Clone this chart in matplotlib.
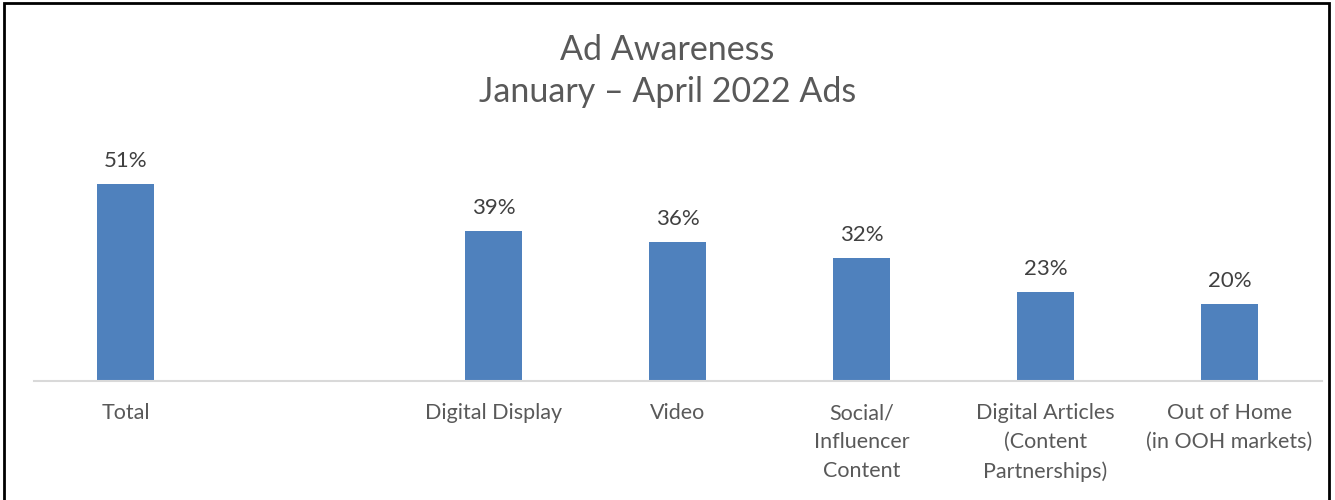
import matplotlib
matplotlib.use("Agg")
import matplotlib.pyplot as plt
from matplotlib.patches import Rectangle

categories = ["Total", "", "Digital Display", "Video", "Social/\nInfluencer\nContent",
              "Digital Articles\n(Content\nPartnerships)", "Out of Home\n(in OOH markets)"]
values = [51, None, 39, 36, 32, 23, 20]

plt.rcParams["font.family"] = ["Lato", "DejaVu Sans"]
TEXT = "#595959"
BAR = "#4f81bd"

fig = plt.figure(figsize=(13.35, 5), dpi=100)
ax = fig.add_axes([0.0251, 0.238, 0.9648, 0.4626])

xs = [i for i, v in enumerate(values) if v is not None]
vs = [v for v in values if v is not None]
ax.bar(xs, vs, width=0.31, color=BAR, zorder=2)
for x, v in zip(xs, vs):
    ax.text(x, v + 3.4, f"{v}%", ha="center", va="bottom", fontsize=16, color="#404040")

ax.set_xlim(-0.5, len(categories) - 0.5)
ax.set_ylim(0, 60)
ax.set_yticks([])
ax.set_xticks(range(len(categories)))
ax.set_xticklabels(categories, fontsize=15.5, color=TEXT, linespacing=1.55, va="top")
ax.tick_params(axis="x", length=0, pad=16)
for s in ["top", "right", "left"]:
    ax.spines[s].set_visible(False)
ax.spines["bottom"].set_color("#d9d9d9")
ax.spines["bottom"].set_linewidth(1.5)

fig.text(0.5, 0.858, "Ad Awareness\nJanuary \u2013 April 2022 Ads", ha="center", va="center",
         fontsize=24.5, color=TEXT, linespacing=1.4)

fig.patches.append(Rectangle((4 / 1335, -0.1), 1325 / 1335, 0.1 + 497 / 500,
                             transform=fig.transFigure, fill=False,
                             edgecolor="black", linewidth=2))

fig.savefig("out.png", dpi=100)
